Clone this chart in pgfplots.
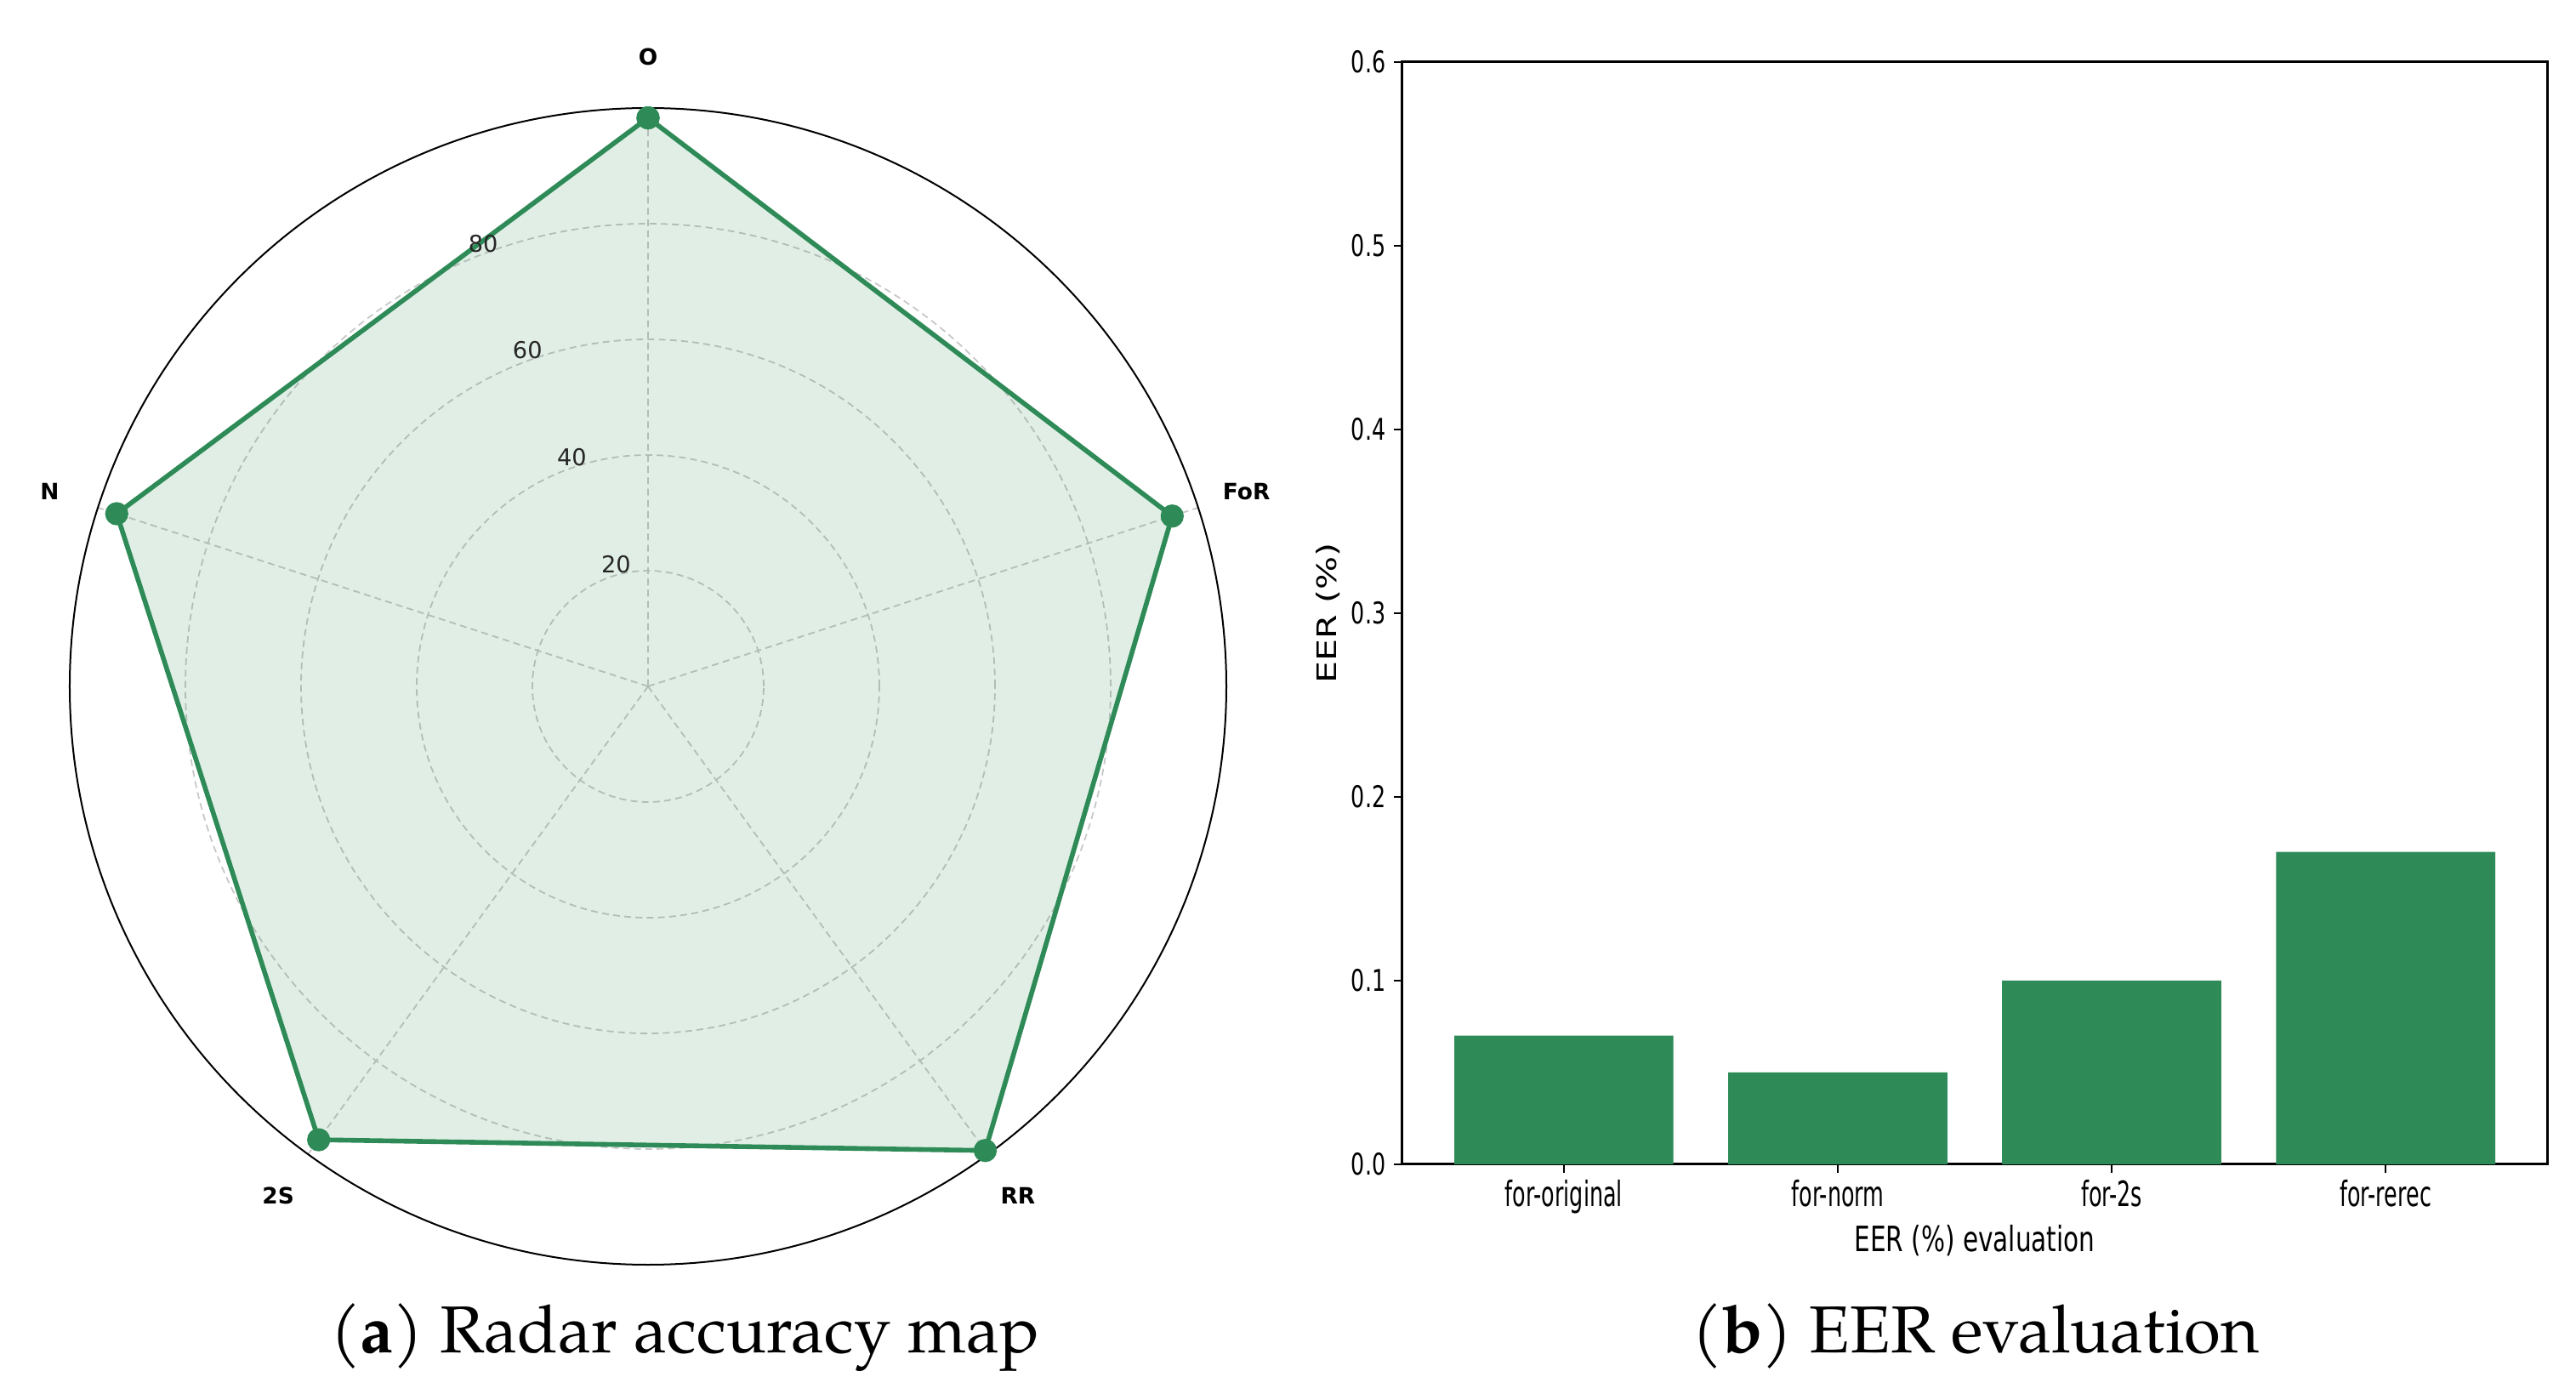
\documentclass[border=0pt]{standalone}
\usepackage{pgfplots}
\pgfplotsset{compat=1.18}
\usepgfplotslibrary{polar}
\usepackage{fontspec}
\setmainfont{TeX Gyre Pagella}
\newfontfamily\djv{DejaVu Sans}
\newfontfamily\ytickfont{DejaVu Sans}[FakeStretch=0.72]
\newfontfamily\xtickfont{DejaVu Sans}[FakeStretch=0.62]
\newfontfamily\xlabfont{DejaVu Sans}[FakeStretch=0.72]
\newfontfamily\ylabfont{DejaVu Sans}[FakeStretch=1.3]
\definecolor{seagreen}{RGB}{46,139,87}
\definecolor{gridgray}{RGB}{200,200,200}
\begin{document}
\begin{tikzpicture}
\path[use as bounding box] (0,0) rectangle (757.25pt,409.5pt);
% ---------------- (a) radar ----------------
\begin{polaraxis}[
  at={(190.5pt,207.75pt)}, anchor=center,
  width=340pt, height=340pt, scale only axis,
  xmin=0, xmax=360, ymin=0, ymax=100,
  xtick={18,90,162,234,306}, xticklabels={},
  ytick={20,40,60,80}, yticklabels={},
  xmajorgrids, ymajorgrids,
  major grid style={gridgray, line width=0.45pt, dash pattern=on 2pt off 1.3pt},
  major tick length=0pt,
  axis line style={black, line width=0.5pt},
  y axis line style={draw=none},
  clip=false,
]
\addplot[seagreen, line width=1.4pt, line join=round, fill=seagreen, fill opacity=0.15,
  mark=*, mark size=2.7pt, mark options={draw=none, fill=seagreen, fill opacity=1}]
  coordinates {(90,98.3) (18,95.3) (-54,99.2) (-126,96.9) (-198,96.6) (-270,98.3)};
\begin{scope}[font=\djv\bfseries\fontsize{6.6pt}{7.5pt}\selectfont]
\node at (axis cs:90,108.8) {O};
\node at (axis cs:18,108.8) {FoR};
\node at (axis cs:-54,108.8) {RR};
\node at (axis cs:-126,108.8) {2S};
\node at (axis cs:-198,108.8) {N};
\end{scope}
\begin{scope}[font=\djv\fontsize{6.8pt}{7.5pt}\selectfont]
\node[text=black!85, inner sep=0pt, xshift=3.6pt, yshift=4.5pt] at (axis cs:112.5,20) {20};
\node[text=black!85, inner sep=0pt, xshift=3.6pt, yshift=4.5pt] at (axis cs:112.5,40) {40};
\node[text=black!85, inner sep=0pt, xshift=3.6pt, yshift=4.5pt] at (axis cs:112.5,60) {60};
\node[text=black!85, inner sep=0pt, xshift=3.6pt, yshift=4.5pt] at (axis cs:112.5,80) {80};
\end{scope}
\end{polaraxis}
% ---------------- (b) bars ----------------
\begin{axis}[
  at={(412.2pt,67.3pt)}, anchor=south west,
  width=336.6pt, height=324pt, scale only axis,
  ybar, bar width=0.8,
  xmin=-0.59, xmax=3.59, ymin=0, ymax=0.6,
  xtick={0,1,2,3},
  xticklabels={for-original,for-norm,for-2s,for-rerec},
  ytick={0,0.1,0.2,0.3,0.4,0.5,0.6},
  /pgf/number format/assume math mode=true,
  yticklabel={\pgfmathprintnumber[fixed,fixed zerofill,precision=1]{\tick}},
  xtick pos=bottom, ytick pos=left,
  tick align=outside, major tick length=2.5pt,
  tick style={black, line width=0.5pt},
  axis line style={black, line width=0.8pt},
  xticklabel style={font=\xtickfont\fontsize{10.25pt}{12pt}\selectfont, anchor=base, yshift=-9.8pt},
  yticklabel style={font=\ytickfont\fontsize{8.8pt}{10pt}\selectfont, anchor=east, inner sep=0pt, xshift=-2.2pt},
  xlabel={EER (\%) evaluation},
  ylabel={EER (\%)},
  xlabel style={font=\xlabfont\fontsize{10.25pt}{12pt}\selectfont, at={(axis description cs:0.5,0)}, anchor=base, yshift=-25.75pt},
  ylabel style={font=\ylabfont\fontsize{7.9pt}{9pt}\selectfont, at={(axis description cs:-0.0651,0.5)}, anchor=center},
]
\addplot[fill=seagreen, draw=none] coordinates {(0,0.07) (1,0.05) (2,0.10) (3,0.17)};
\end{axis}
% ---------------- captions ----------------
\node[anchor=base, font=\fontsize{19.5pt}{22pt}\selectfont, inner sep=0pt] at (201.25pt,12pt) {(\textbf{a}) Radar accuracy map};
\node[anchor=base, font=\fontsize{19.5pt}{22pt}\selectfont, inner sep=0pt] at (580.75pt,12pt) {(\textbf{b}) EER evaluation};
\end{tikzpicture}
\end{document}
